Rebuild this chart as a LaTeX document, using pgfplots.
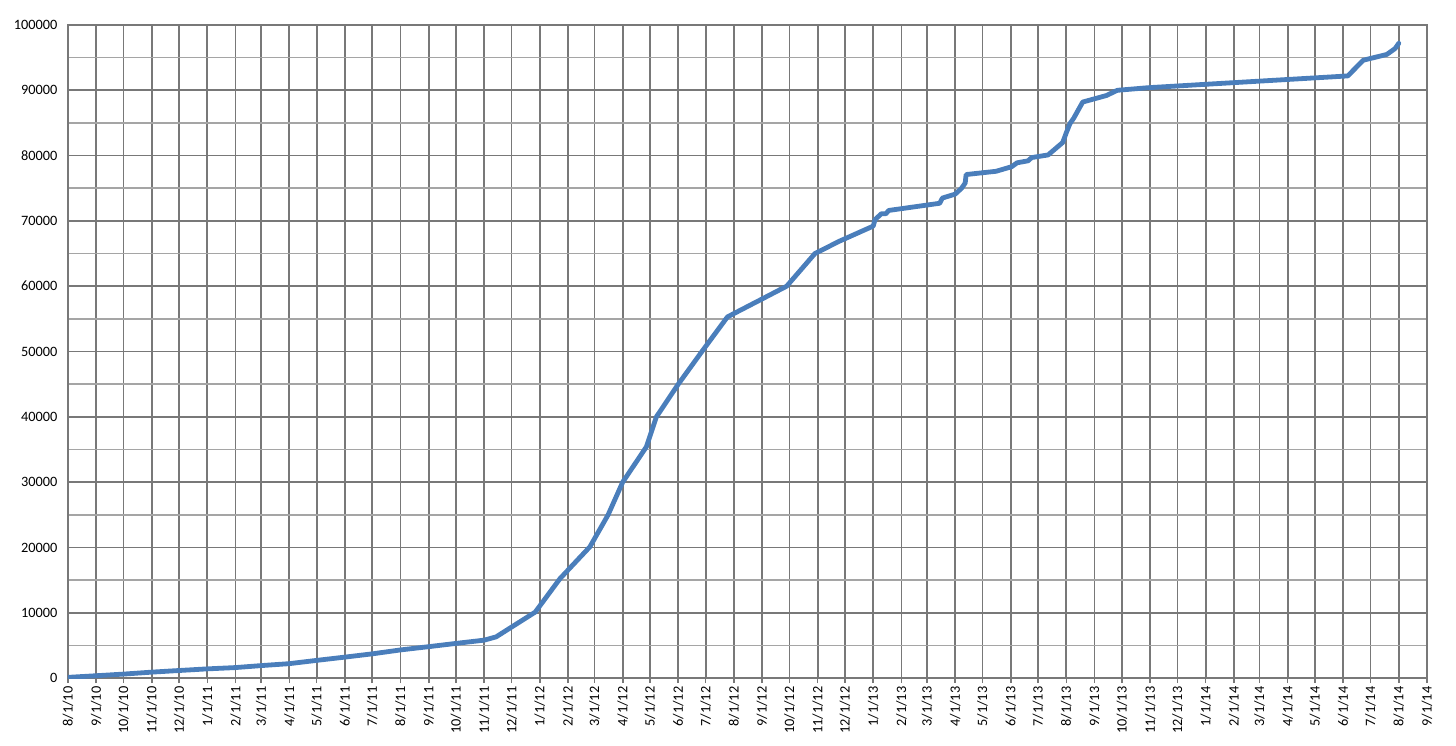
\documentclass[border=0pt]{standalone}
\usepackage{fontspec}
\setmainfont{Carlito}
\usepackage{pgfplots}
\pgfplotsset{compat=1.18}
\definecolor{linblue}{RGB}{74,126,187}
\definecolor{gridmaj}{RGB}{120,120,120}
\definecolor{gridmin}{RGB}{165,165,165}
\begin{document}
\begin{tikzpicture}
\begin{axis}[
 scale only axis, width=1359pt, height=653pt,
 xmin=0, xmax=1492, ymin=0, ymax=100000,
 xtick={0,31,61,92,122,153,184,212,243,273,304,334,365,396,426,457,487,518,549,578,609,639,670,700,731,762,792,823,853,884,915,943,974,1004,1035,1065,1096,1127,1157,1188,1218,1249,1280,1308,1339,1369,1400,1430,1461,1492},
 xticklabels={8/1/10,9/1/10,10/1/10,11/1/10,12/1/10,1/1/11,2/1/11,3/1/11,4/1/11,5/1/11,6/1/11,7/1/11,8/1/11,9/1/11,10/1/11,11/1/11,12/1/11,1/1/12,2/1/12,3/1/12,4/1/12,5/1/12,6/1/12,7/1/12,8/1/12,9/1/12,10/1/12,11/1/12,12/1/12,1/1/13,2/1/13,3/1/13,4/1/13,5/1/13,6/1/13,7/1/13,8/1/13,9/1/13,10/1/13,11/1/13,12/1/13,1/1/14,2/1/14,3/1/14,4/1/14,5/1/14,6/1/14,7/1/14,8/1/14,9/1/14},
 ytick={0,10000,...,100000},
 minor ytick={5000,15000,...,95000},
 grid=both,
 major grid style={gridmaj, line width=1.8pt},
 minor grid style={gridmin, line width=1.6pt},
 axis line style={gridmaj, line width=1.8pt},
 tick pos=left,
 xtick align=outside,
 xtick style={gridmaj, line width=1.6pt},
 ytick style={draw=none},
 major tick length=5pt,
 minor tick length=0pt,
 scaled y ticks=false,
 xticklabel style={rotate=90, anchor=east, font=\fontsize{14.3}{15}\selectfont},
 yticklabel style={font=\fontsize{14.3}{15}\selectfont, xshift=-7pt},
 /pgf/number format/.cd, fixed, 1000 sep={}, assume math mode=true,
]
\addplot[linblue, line width=4.8pt, line join=round, line cap=round] table {
0 100
31 350
61 600
92 900
122 1150
153 1400
184 1600
212 1900
243 2200
273 2700
304 3200
334 3700
365 4300
396 4800
426 5300
457 5800
470 6300
513 10100
540 15200
573 20100
593 25000
609 30000
635 35400
646 40000
670 45000
697 50200
724 55300
760 57900
789 60000
820 65000
847 66900
884 69200
886 70200
893 71100
898 71100
901 71600
957 72700
960 73500
974 74100
981 75000
985 75800
986 77100
1019 77600
1036 78300
1042 78900
1054 79200
1058 79700
1076 80100
1092 82000
1096 83500
1100 84900
1104 85700
1114 88200
1140 89200
1152 90000
1186 90400
1405 92200
1422 94600
1448 95500
1457 96400
1461 97200
};
\end{axis}
\path ([xshift=-68pt,yshift=-67pt]current axis.south west) rectangle ([xshift=29pt,yshift=25pt]current axis.north east);
\end{tikzpicture}
\end{document}
